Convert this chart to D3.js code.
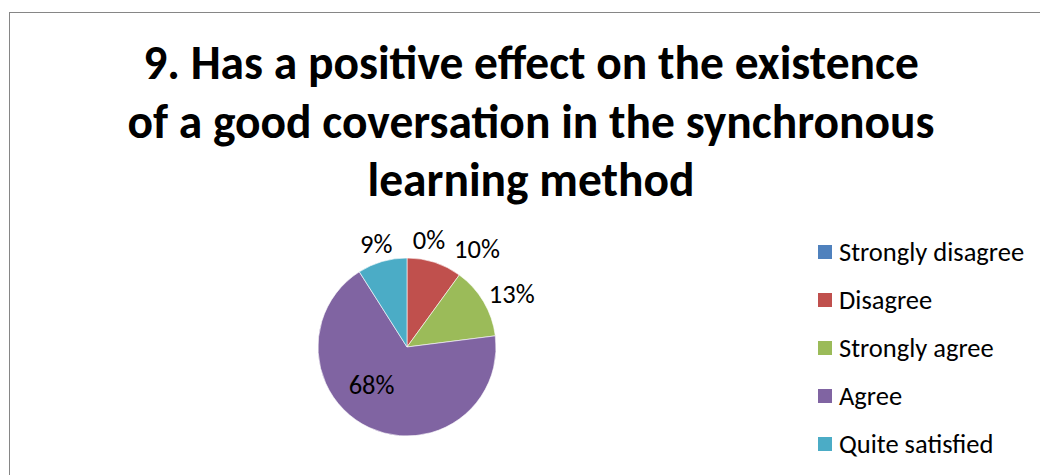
<!DOCTYPE html>
<html>
<head>
<meta charset="utf-8">
<script src="https://cdn.jsdelivr.net/npm/d3@7"></script>
<style>
  html, body { margin: 0; padding: 0; background: #fff; }
  svg { display: block; }
  text { font-family: Carlito, Calibri, Lato, sans-serif; fill: #000; }
</style>
</head>
<body>
<svg id="chart" width="1040" height="475"></svg>
<script>
// Survey answers and their shares (percent)
const categories = ["Strongly disagree", "Disagree", "Strongly agree", "Agree", "Quite satisfied"];
const values = [0, 10, 13, 68, 9];
const colors = ["#4F81BD", "#C0504D", "#9BBB59", "#8064A2", "#4BACC6"];
const titleLines = [
  "9. Has a positive effect on the existence",
  "of a good coversation in the synchronous",
  "learning method"
];

// Layout
const W = 1040, H = 475;
const cx = 407, cy = 347, R = 89;
const labelR = 110;
// small shifts that keep neighbouring outside labels apart
const labelNudge = [[22, 3], [36, 6], [10, 3], [0, 0], [0, 2]];
const insideLabel = [false, false, false, true, false];

const svg = d3.select("#chart");

// chart frame
svg.append("rect")
  .attr("x", 9.5).attr("y", 12.5)
  .attr("width", W + 20).attr("height", H + 20)
  .attr("fill", "#fff").attr("stroke", "#868686").attr("stroke-width", 1);

// title
const title = svg.append("text")
  .attr("text-anchor", "middle")
  .attr("font-weight", "bold")
  .attr("font-size", 47.5);
titleLines.forEach((t, i) => {
  title.append("tspan").attr("x", 531).attr("y", 79 + i * 58.5).text(t);
});

// pie
const color = d3.scaleOrdinal().domain(categories).range(colors);
const pie = d3.pie().sort(null).value(d => d.value);
const arcs = pie(categories.map((c, i) => ({ name: c, value: values[i], i })));
const arc = d3.arc().innerRadius(0).outerRadius(R);
const labelArc = d3.arc().innerRadius(labelR).outerRadius(labelR);

const g = svg.append("g").attr("transform", `translate(${cx},${cy})`);
g.selectAll("path.slice")
  .data(arcs)
  .join("path")
  .attr("class", "slice")
  .attr("d", arc)
  .attr("fill", d => color(d.data.name))
  .attr("stroke", "#fff")
  .attr("stroke-width", 0.6);

g.selectAll("text.lbl")
  .data(arcs)
  .join("text")
  .attr("class", "lbl")
  .attr("font-size", 26.5)
  .attr("text-anchor", "middle")
  .attr("dy", "0.35em")
  .attr("transform", d => {
    const i = d.data.i;
    let p;
    if (insideLabel[i]) {
      const mid = (d.startAngle + d.endAngle) / 2 + 0.31;
      const r = 52;
      p = [Math.sin(mid) * r, -Math.cos(mid) * r];
    } else {
      p = labelArc.centroid(d);
      p = [p[0] + labelNudge[i][0], p[1] + labelNudge[i][1]];
    }
    return `translate(${p[0]},${p[1]})`;
  })
  .text(d => Math.round(d.value) + "%");

// legend
const legend = svg.append("g").attr("transform", "translate(818,252)");
const rows = legend.selectAll("g")
  .data(categories)
  .join("g")
  .attr("transform", (d, i) => `translate(0,${i * 48})`);
rows.append("rect")
  .attr("x", 0).attr("y", -7).attr("width", 14).attr("height", 14)
  .attr("fill", d => color(d));
rows.append("text")
  .attr("x", 21).attr("y", 0).attr("dy", "0.35em")
  .attr("font-size", 26.5)
  .text(d => d);
</script>
</body>
</html>
